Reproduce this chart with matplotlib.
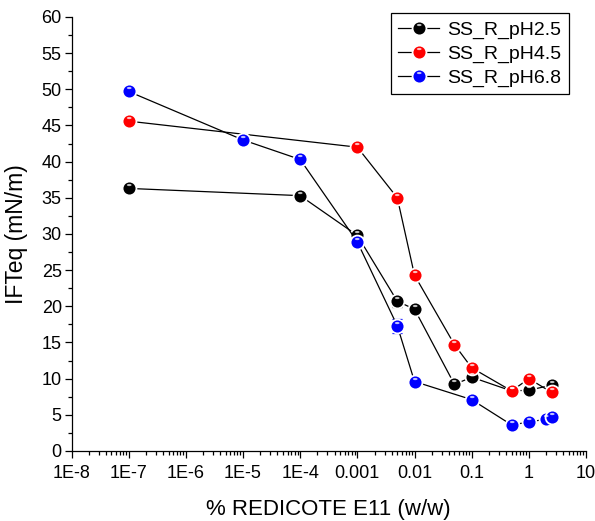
import matplotlib
matplotlib.use("Agg")
import matplotlib.pyplot as plt
import numpy as np
from matplotlib.path import Path
from matplotlib.ticker import MultipleLocator, LogLocator, NullFormatter, FixedLocator, FixedFormatter
from matplotlib.legend_handler import HandlerTuple

plt.rcParams['font.family'] = ['Liberation Sans', 'DejaVu Sans']

# surfactant concentration (% w/w) and equilibrium IFT (mN/m)
conc_ph25 = [1e-7, 1e-4, 0.001, 0.005, 0.01, 0.05, 0.1, 0.5, 1, 2.5]
ift_ph25 = [36.3, 35.3, 29.8, 20.7, 19.6, 9.2, 10.2, 8.3, 8.4, 9.1]
err_ph25 = [0, 0, 0, 0.75, 0, 0, 0, 0, 0, 0]

conc_ph45 = [1e-7, 0.001, 0.005, 0.01, 0.05, 0.1, 0.5, 1, 2.5]
ift_ph45 = [45.6, 42.0, 35.0, 24.3, 14.7, 11.5, 8.3, 10.0, 8.1]
err_ph45 = [0, 0, 0, 0, 0, 0, 0, 0, 0]

conc_ph68 = [1e-7, 1e-5, 1e-4, 0.001, 0.005, 0.01, 0.1, 0.5, 1, 2, 2.5]
ift_ph68 = [49.7, 43.0, 40.3, 28.9, 17.3, 9.6, 7.1, 3.6, 4.0, 4.4, 4.7]
err_ph68 = [0, 0, 0, 0, 1.0, 0, 0, 0, 0, 0, 0]

series = [
    ("SS_R_pH2.5", conc_ph25, ift_ph25, err_ph25, "#000000"),
    ("SS_R_pH4.5", conc_ph45, ift_ph45, err_ph45, "#ff0000"),
    ("SS_R_pH6.8", conc_ph68, ift_ph68, err_ph68, "#0000ff"),
]

x_ticks = [1e-8, 1e-7, 1e-6, 1e-5, 1e-4, 1e-3, 1e-2, 1e-1, 1, 10]
x_labels = ["1E-8", "1E-7", "1E-6", "1E-5", "1E-4", "0.001", "0.01", "0.1", "1", "10"]


def glint_marker():
    # small highlight ellipse near the top of the ball; the two bare MOVETOs
    # pin the marker scale so it lines up with the main 'o' marker
    circ = Path.unit_circle()
    verts = circ.vertices * [0.17, 0.08] + [-0.02, 0.25]
    verts = np.vstack([[[-0.5, -0.5], [0.5, 0.5]], verts])
    codes = np.concatenate([[Path.MOVETO, Path.MOVETO], circ.codes])
    return Path(verts, codes)


fig = plt.figure(figsize=(5.95, 5.21), dpi=100)
ax = fig.add_axes([0.1202, 0.1344, 0.8647, 0.8330])

glint = glint_marker()
handles = []
for name, x, y, err, color in series:
    ax.errorbar(x, y, yerr=err, fmt="none", ecolor=color, elinewidth=0.9,
                capsize=3.5, capthick=0.9, zorder=2)
    line, = ax.plot(x, y, color="black", lw=0.9, marker="o", markersize=10,
                    markerfacecolor=color, markeredgecolor="white",
                    markeredgewidth=1.3, label=name, zorder=3)
    hl, = ax.plot(x, y, ls="none", marker=glint, markersize=10,
                  markerfacecolor="white", markeredgecolor="none",
                  alpha=0.75, zorder=4)
    handles.append((line, hl))

ax.set_xscale("log")
ax.set_xlim(1e-8, 10)
ax.set_ylim(0, 60)

ax.xaxis.set_major_locator(FixedLocator(x_ticks))
ax.xaxis.set_major_formatter(FixedFormatter(x_labels))
ax.xaxis.set_minor_locator(LogLocator(base=10, subs=np.arange(2, 10), numticks=20))
ax.xaxis.set_minor_formatter(NullFormatter())
ax.yaxis.set_major_locator(MultipleLocator(5))
ax.yaxis.set_minor_locator(MultipleLocator(2.5))

for side in ("top", "right"):
    ax.spines[side].set_visible(False)
for side in ("left", "bottom"):
    ax.spines[side].set_linewidth(0.9)

ax.tick_params(which="major", direction="out", length=5, width=0.9,
               labelsize=13)
ax.tick_params(axis="x", which="major", pad=5)
ax.tick_params(axis="y", which="major", pad=2)
ax.tick_params(which="minor", direction="out", length=2.8, width=0.9)

ax.set_xlabel("% REDICOTE E11 (w/w)", fontsize=16, labelpad=12)
ax.set_ylabel("IFTeq (mN/m)", fontsize=16.5, labelpad=10)

leg = ax.legend(handles, [s[0] for s in series],
                handler_map={tuple: HandlerTuple(ndivide=1)},
                loc="upper right", bbox_to_anchor=(569 / 595, 1 - 13 / 521),
                bbox_transform=fig.transFigure, borderaxespad=0,
                fancybox=False, edgecolor="black", framealpha=1,
                fontsize=14, handlelength=2.1, handletextpad=0.4,
                borderpad=0.4, labelspacing=0.32)
leg.get_frame().set_linewidth(0.9)

fig.savefig("out.png", dpi=100)
